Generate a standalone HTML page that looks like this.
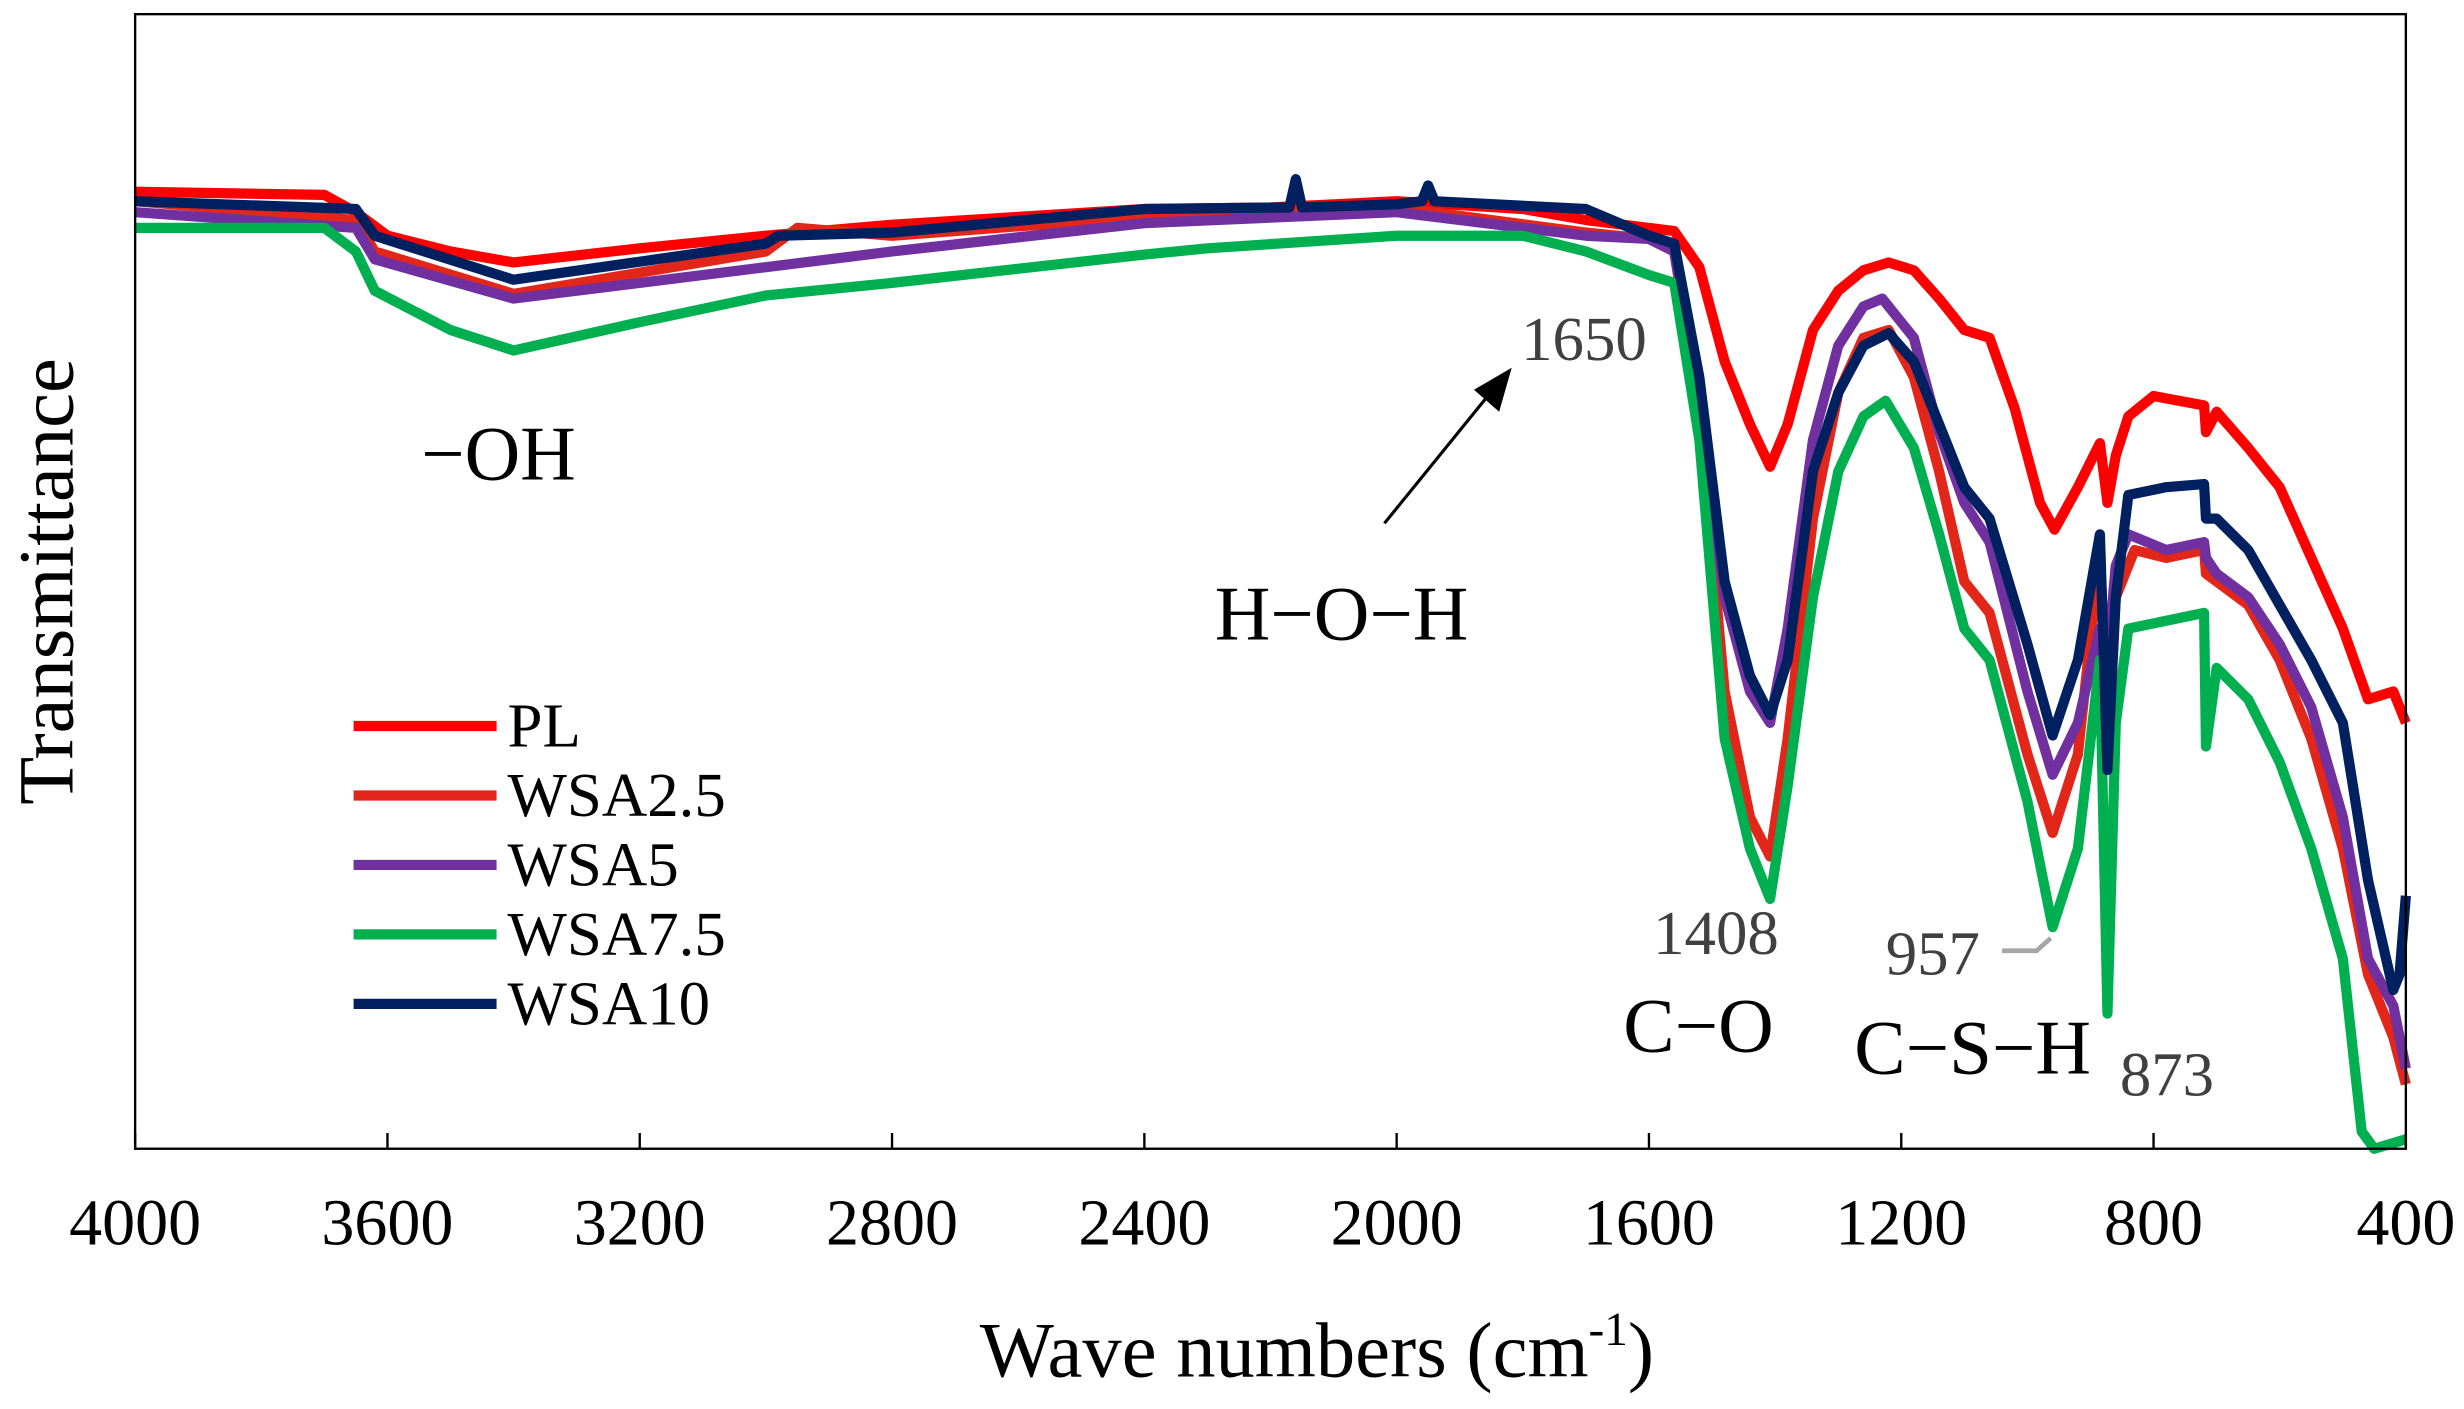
<!DOCTYPE html>
<html><head><meta charset="utf-8"><style>
html,body{margin:0;padding:0;background:#fff}
svg{display:block;font-family:"Liberation Serif",serif}
</style></head><body>
<svg id="chart" width="2464" height="1409" viewBox="0 0 1568 896.6" xmlns="http://www.w3.org/2000/svg">
<rect x="0" y="0" width="1568" height="896.6" fill="#fff"/>
<g id="series"></g>
<rect x="86" y="9" width="1445" height="722" fill="none" stroke="#000" stroke-width="1.5"/>
<g id="ticks"></g>
<text x="838" y="876" font-size="50" text-anchor="middle">Wave numbers (cm<tspan font-size="30" dy="-20">-1</tspan><tspan dy="20">)</tspan></text>
<text transform="translate(46,370) rotate(-90)" font-size="50" text-anchor="middle">Transmittance</text>
<text x="268" y="305" font-size="49">−OH</text>
<text x="773" y="407" font-size="49">H−O−H</text>
<line x1="881" y1="333" x2="950" y2="248" stroke="#000" stroke-width="2"/>
<polygon points="962,234 938,248 954,262" fill="#000"/>
<text x="968" y="229" font-size="40" fill="#404040">1650</text>
<text x="1052" y="607" font-size="40" fill="#404040">1408</text>
<text x="1033" y="669" font-size="49">C−O</text>
<text x="1200" y="620" font-size="40" fill="#404040">957</text>
<polyline points="1274,605 1296,605 1305,597" fill="none" stroke="#a6a6a6" stroke-width="3"/>
<text x="1180" y="683" font-size="49">C−S−H</text>
<text x="1349" y="697" font-size="40" fill="#404040">873</text>
<g id="legend"></g>
</svg>
<script>
const xTicks=[4000,3600,3200,2800,2400,2000,1600,1200,800,400];
const seriesNames=["PL","WSA2.5","WSA5","WSA7.5","WSA10"];
const seriesColors=["#ff0000","#e2261a","#7030a0","#00b050","#002060"];
const wnPL=[4000,3700,3650,3600,3500,3400,3200,3000,2800,2400,2200,2000,1800,1700,1600,1560,1520,1480,1440,1408,1380,1340,1300,1260,1220,1180,1140,1100,1060,1020,980,957,920,885,873,860,840,800,760,720,717,700,650,600,550,500,460,420,400];
const ptPL=[122,124,135,150,160,167,158,150,143,133,132,128,133,140,145,147,170,230,270,297,270,210,185,172,167,172,190,210,215,260,320,337,310,282,320,290,265,252,255,258,275,262,285,310,355,400,445,440,460];
const wn25=[4000,3650,3620,3400,3000,2950,2800,2400,2000,1700,1600,1560,1520,1480,1440,1408,1380,1340,1300,1260,1220,1180,1140,1100,1060,1000,960,920,885,873,860,830,780,720,717,700,650,600,550,500,460,420,400];
const pt25=[128,140,160,187,160,145,150,138,132,148,152,160,260,440,520,545,470,330,250,215,210,240,300,370,390,480,530,480,350,470,380,350,355,350,365,370,385,420,470,540,620,660,690];
const wn5=[4000,3650,3620,3400,3000,2800,2400,2000,1700,1600,1560,1520,1480,1440,1408,1380,1340,1300,1260,1230,1180,1140,1100,1060,1000,960,920,885,873,860,840,780,720,717,700,650,600,550,500,460,420,400];
const pt5=[135,145,165,190,170,160,142,135,150,152,160,250,380,440,460,400,280,220,195,190,215,275,320,345,440,493,460,400,420,360,340,350,345,355,365,380,410,450,520,610,640,680];
const wn75=[4000,3700,3650,3620,3500,3400,3200,3000,2800,2400,2300,2000,1800,1700,1600,1560,1520,1480,1440,1408,1380,1340,1300,1260,1225,1180,1140,1100,1060,1000,960,920,885,873,860,840,780,720,717,700,650,600,550,500,470,450,400];
const pt75=[145,145,160,185,210,223,205,188,180,162,158,150,150,160,175,180,280,470,540,572,500,380,300,265,255,285,340,400,420,510,590,540,420,645,460,400,395,390,475,425,445,485,540,610,720,731,725];
const wn10=[4000,3650,3620,3400,3000,2980,2800,2400,2170,2160,2150,2000,1960,1950,1940,1700,1600,1560,1520,1480,1440,1408,1380,1340,1300,1260,1220,1180,1140,1100,1060,1000,960,920,885,873,860,840,780,720,717,700,650,600,550,500,460,420,410,400];
const pt10=[128,133,150,178,155,150,148,133,132,114,132,130,128,118,128,133,150,155,240,370,430,455,420,300,250,220,212,230,270,310,330,410,468,420,340,490,380,315,310,308,330,330,350,385,420,460,560,630,620,570];
const toT=a=>a.map(p=>(731-p)/7.22);
const seriesWn=[wnPL,wn25,wn5,wn75,wn10];
const seriesT=[toT(ptPL),toT(pt25),toT(pt5),toT(pt75),toT(pt10)];
const X0=86,X1=1531,Y0=9,Y1=731;
const xs=v=>X0+(4000-v)/3600*(X1-X0);
const ys=v=>Y1-v/100*(Y1-Y0);
const NS="http://www.w3.org/2000/svg";
const g=document.getElementById('series');
[0,1,2,3,4].forEach(i=>{
  const pl=document.createElementNS(NS,'polyline');
  pl.setAttribute('points',seriesWn[i].map((w,k)=>xs(w).toFixed(1)+','+ys(seriesT[i][k]).toFixed(1)).join(' '));
  pl.setAttribute('fill','none');pl.setAttribute('stroke',seriesColors[i]);
  pl.setAttribute('stroke-width','6.5');pl.setAttribute('stroke-linejoin','round');
  
  
  g.appendChild(pl);
});
const tg=document.getElementById('ticks');
xTicks.forEach(t=>{
  const l=document.createElementNS(NS,'line');
  l.setAttribute('x1',xs(t));l.setAttribute('x2',xs(t));l.setAttribute('y1',Y1);l.setAttribute('y2',Y1-10);
  l.setAttribute('stroke','#000');l.setAttribute('stroke-width','1.5');
  
  
  tg.appendChild(l);
  const tx=document.createElementNS(NS,'text');
  tx.setAttribute('x',xs(t));tx.setAttribute('y',792);tx.setAttribute('font-size','42');tx.setAttribute('text-anchor','middle');
  tx.textContent=t;
  
  
  tg.appendChild(tx);
});
const lg=document.getElementById('legend');
seriesNames.forEach((n,i)=>{
  const y=462+i*44.2;
  const l=document.createElementNS(NS,'line');
  l.setAttribute('x1',225);l.setAttribute('x2',316);l.setAttribute('y1',y);l.setAttribute('y2',y);
  l.setAttribute('stroke',seriesColors[i]);l.setAttribute('stroke-width','6.5');
  
  
  lg.appendChild(l);
  const tx=document.createElementNS(NS,'text');
  tx.setAttribute('x',323);tx.setAttribute('y',y+13);tx.setAttribute('font-size','40');
  tx.textContent=n;
  
  
  lg.appendChild(tx);
});
</script>
</body></html>
